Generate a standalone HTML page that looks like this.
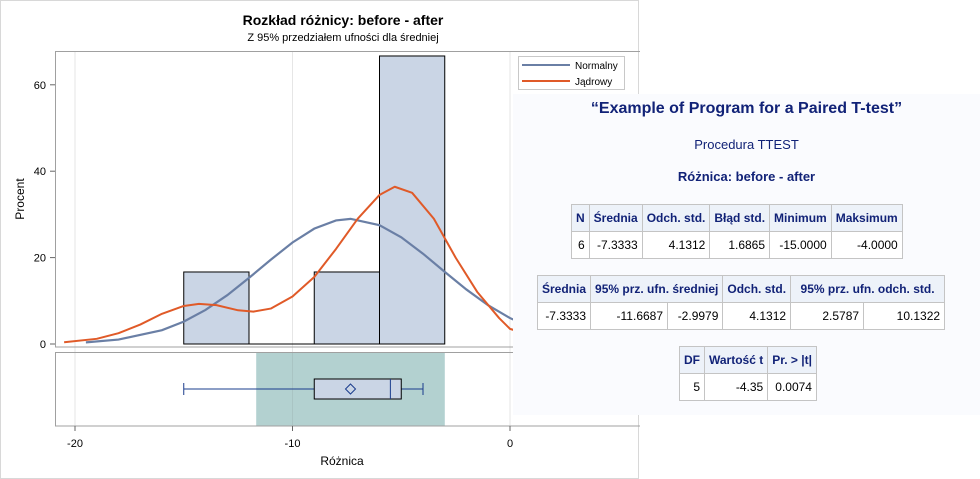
<!DOCTYPE html>
<html><head><meta charset="utf-8">
<style>
body{margin:0;width:980px;height:479px;background:#fff;position:relative;overflow:hidden;font-family:"Liberation Sans",Arial,sans-serif}
#panel{position:absolute;left:513px;top:94px;width:467px;height:321px;background:#fafbfe}
.t{position:absolute;left:0;width:100%;text-align:center;color:#112277;font-weight:bold}
table{position:absolute;border-collapse:collapse;font-size:12px}
td,th{border:1px solid #c4c4c4;padding:0 4px;height:26px;white-space:nowrap}
th{background:#edf2f9;color:#112277;font-weight:bold}
td{background:#fff;text-align:right;color:#000}
</style></head><body>
<svg id="chart" width="640" height="479" style="position:absolute;left:0;top:0" font-family="Liberation Sans, Arial, sans-serif"></svg>
<div id="panel">
<div class="t" style="top:6px;font-size:16px">“Example of Program for a Paired T-test”</div>
<div class="t" style="top:43px;font-size:13px;font-weight:normal">Procedura TTEST</div>
<div class="t" style="top:75px;font-size:13px">Różnica: before - after</div>
<table style="left:58px;top:110px">
<tr><th>N</th><th>Średnia</th><th>Odch. std.</th><th>Błąd std.</th><th>Minimum</th><th>Maksimum</th></tr>
<tr><td>6</td><td>-7.3333</td><td>4.1312</td><td>1.6865</td><td>-15.0000</td><td>-4.0000</td></tr></table>
<table style="left:24px;top:181px">
<tr><th>Średnia</th><th colspan="2">95% prz. ufn. średniej</th><th>Odch. std.</th><th colspan="2">95% prz. ufn. odch. std.</th></tr>
<tr><td>-7.3333</td><td style="width:68px">-11.6687</td><td>-2.9979</td><td>4.1312</td><td style="width:64px">2.5787</td><td style="width:72px">10.1322</td></tr></table>
<table style="left:166px;top:252px">
<tr><th>DF</th><th>Wartość t</th><th>Pr. &gt; |t|</th></tr>
<tr><td>5</td><td>-4.35</td><td>0.0074</td></tr></table>
</div>
<script>
const binStarts=[-15,-12,-9,-6];
const binPercents=[16.67,0,16.67,66.67];
const binWidth=3;
const normalX=[-19.5,-18,-16,-15,-14,-13,-12,-11,-10,-9,-8,-7.33,-6,-5,-4,-3,-2,-1,0,1];
const normalY=[0.38,1.03,3.2,5.18,7.88,11.3,15.3,19.5,23.5,26.7,28.6,28.97,27.5,24.7,20.9,16.7,12.6,8.95,6.0,3.8];
const kernelX=[-20.5,-19,-18,-17,-16,-15,-14.3,-13.5,-12.5,-11.8,-11,-10,-9,-8,-7,-6,-5.3,-4.5,-3.5,-2.5,-1.5,-0.5,0,1];
const kernelY=[0.4,1.2,2.5,4.5,7,8.8,9.3,9,7.8,7.5,8.2,11,15.5,22,29,34.5,36.4,35,29,20,12,6,3.5,2];
const boxStats=[-15,-9,-5.5,-5,-4];
const meanVal=-7.333;
const ciBand=[-11.6687,-2.9979];
const xTicks=[-20,-10,0];
const yTicks=[0,20,40,60];
const NS='http://www.w3.org/2000/svg';
const svg=document.getElementById('chart');
const X=v=>510+v*21.75, Y=v=>344-v*4.32;
function el(t,a,p){const e=document.createElementNS(NS,t);for(const k in a)e.setAttribute(k,a[k]);(p||svg).appendChild(e);return e;}
el('rect',{x:0.5,y:0.5,width:638,height:478,fill:'#fff',stroke:'#d8d8d8'});
let t=el('text',{x:343,y:25,'text-anchor':'middle','font-size':14,'font-weight':'bold'});t.textContent='Rozkład różnicy: before - after';

t=el('text',{x:343,y:41,'text-anchor':'middle','font-size':11});t.textContent='Z 95% przedziałem ufności dla średniej';

xTicks.forEach(v=>{const g=el('line',{x1:X(v),x2:X(v),y1:52,y2:426,stroke:'#e6e6e6'});
});
// CI band
const ci=el('rect',{x:X(ciBand[0]),y:352,width:X(ciBand[1])-X(ciBand[0]),height:74,fill:'#b3d1d0'});

el('line',{x1:X(-10),x2:X(-10),y1:352,y2:426,stroke:'#a9c4c3'});
binStarts.forEach((s,i)=>{if(!binPercents[i])return;const r=el('rect',{x:X(s),y:Y(binPercents[i]),width:X(s+binWidth)-X(s),height:Y(0)-Y(binPercents[i]),fill:'#cad5e5',stroke:'#000'});
});
el('line',{x1:X(-12),x2:X(-9),y1:Y(0),y2:Y(0),stroke:'#000'});
const pts=(xs,ys)=>xs.map((x,i)=>X(x)+','+Y(ys[i])).join(' ');
let p=el('polyline',{points:pts(normalX,normalY),fill:'none',stroke:'#6a7fa5','stroke-width':2.2});

p=el('polyline',{points:pts(kernelX,kernelY),fill:'none',stroke:'#e05a28','stroke-width':2,'stroke-linejoin':'round'});

el('rect',{x:55.5,y:51.5,width:600,height:295.5,fill:'none',stroke:'#a0a0a0'});
el('rect',{x:55.5,y:352.5,width:600,height:73.5,fill:'none',stroke:'#a0a0a0'});
// boxplot
const cy=389;
const bp=el('g',{});
el('line',{x1:X(boxStats[0]),x2:X(boxStats[4]),y1:cy,y2:cy,stroke:'#1a3c8c'},bp);
el('line',{x1:X(boxStats[0]),x2:X(boxStats[0]),y1:cy-6,y2:cy+6,stroke:'#1a3c8c'},bp);
el('line',{x1:X(boxStats[4]),x2:X(boxStats[4]),y1:cy-6,y2:cy+6,stroke:'#1a3c8c'},bp);
el('rect',{x:X(boxStats[1]),y:cy-10,width:X(boxStats[3])-X(boxStats[1]),height:20,fill:'#cad5e5',stroke:'#000'},bp);
el('line',{x1:X(boxStats[2]),x2:X(boxStats[2]),y1:cy-10,y2:cy+10,stroke:'#1a3c8c'},bp);
const mx=X(meanVal);el('polygon',{points:`${mx},${cy-5} ${mx+5},${cy} ${mx},${cy+5} ${mx-5},${cy}`,fill:'none',stroke:'#1a3c8c'},bp);
// axes labels
yTicks.forEach(v=>{el('line',{x1:50,x2:55,y1:Y(v),y2:Y(v),stroke:'#666'});
const tt=el('text',{x:46,y:Y(v)+4,'text-anchor':'end','font-size':11});tt.textContent=v;
});
xTicks.forEach(v=>{el('line',{x1:X(v),x2:X(v),y1:426,y2:431,stroke:'#666'});
const tt=el('text',{x:X(v),y:447,'text-anchor':'middle','font-size':11});tt.textContent=v;
});
t=el('text',{x:342,y:465,'text-anchor':'middle','font-size':12});t.textContent='Różnica';

t=el('text',{x:24,y:199,'text-anchor':'middle','font-size':12,transform:'rotate(-90 24 199)'});t.textContent='Procent';

// legend
const lg=el('g',{});
el('rect',{x:518.5,y:56.5,width:106,height:33,fill:'#fff',stroke:'#c8c8c8'},lg);
el('line',{x1:522,x2:570,y1:65,y2:65,stroke:'#6a7fa5','stroke-width':2},lg);
el('line',{x1:522,x2:570,y1:81,y2:81,stroke:'#e05a28','stroke-width':2},lg);
t=el('text',{x:575,y:69,'font-size':10},lg);t.textContent='Normalny';
t=el('text',{x:575,y:85,'font-size':10},lg);t.textContent='Jądrowy';
</script>
</body></html>
